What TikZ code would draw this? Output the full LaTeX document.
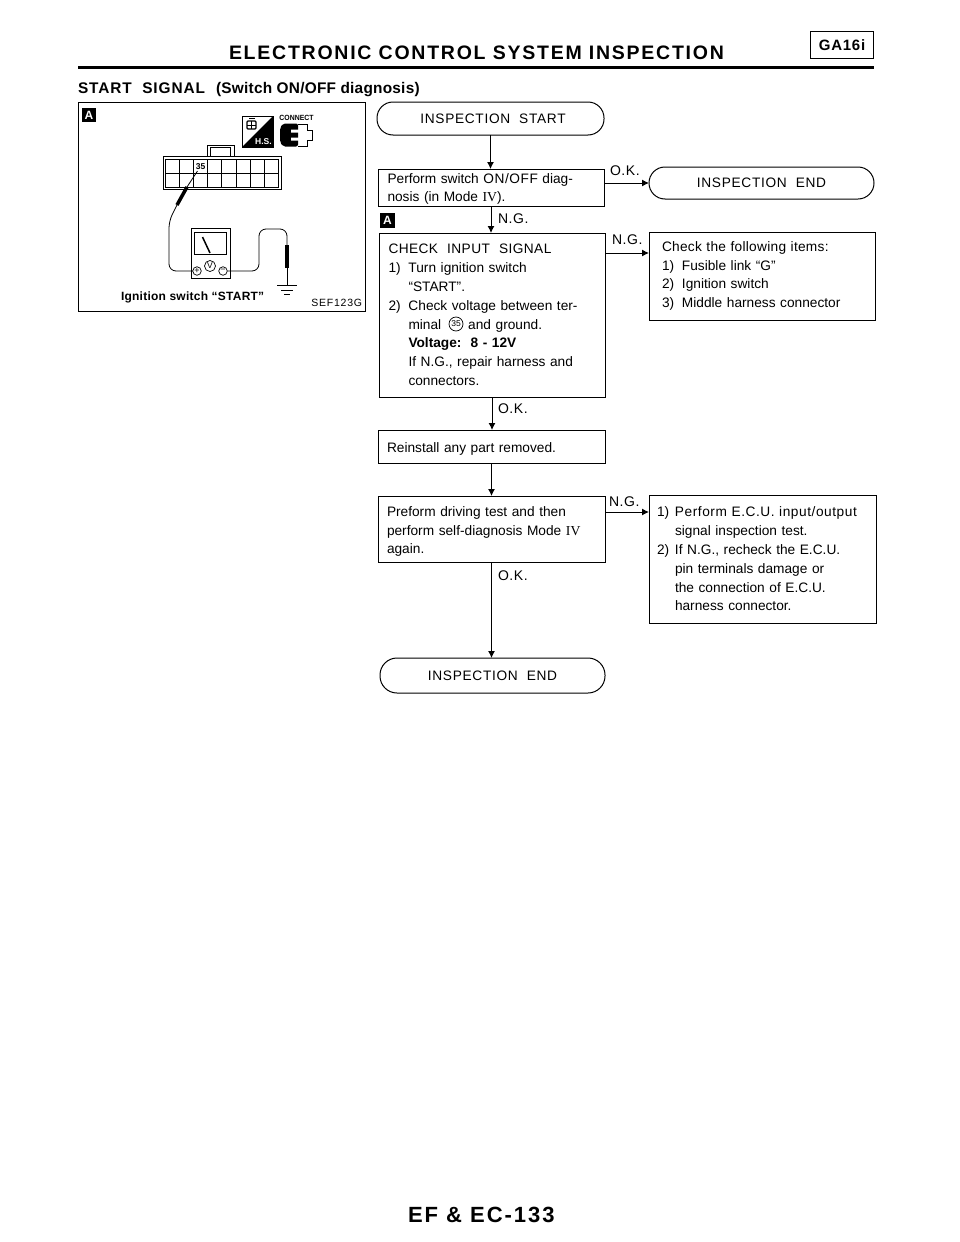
\documentclass[tikz,border=0pt]{standalone}
\usepackage{fontspec}
\setmainfont{Liberation Sans}
\newfontfamily\romanfont{Liberation Serif}
\usetikzlibrary{arrows.meta,calc}
\newcommand{\lst}[2]{\makebox[20pt][l]{#1}#2}
\newcommand{\lsb}[2]{\makebox[18pt][l]{#1}#2}
\newcommand{\cnt}{\hspace*{20pt}}
\newcommand{\cnb}{\hspace*{18pt}}
\newcommand{\spaced}[2]{{\addfontfeature{LetterSpace=#1}#2}}
\tikzset{
  x=1pt,y=-1pt,
  every node/.style={inner sep=0pt,outer sep=0pt},
  body/.style={font=\fontsize{13.7}{18.8}\selectfont},
  stepbox/.style={draw,line width=1pt,anchor=north west,align=left,body},
  endbox/.style={draw,line width=1pt,rounded corners=16pt,anchor=north west,body},
  arr/.style={line width=1pt,-{Latex[length=7pt,width=7pt]}},
  lab/.style={font=\fontsize{14}{16}\selectfont,anchor=base west},
  tag/.style={fill=black,text=white,minimum size=14pt,font=\bfseries\fontsize{12}{12}\selectfont},
  thin line/.style={line width=.8pt},
  probe/.style={line width=3.5pt},
}
\begin{document}
\begin{tikzpicture}
\useasboundingbox (0,0) rectangle (960,1242);
\fill[white] (0,0) rectangle (960,1242);
% header
\node[anchor=base west,font=\bfseries\fontsize{19.5}{20}\selectfont] (title) at (229,59) {\spaced{9}{ELECTRONIC CONTROL SYSTEM INSPECTION}};
\coordinate (ruleL) at (78,67.5);
\coordinate (ruleR) at (874,67.5);
\draw[line width=2.6pt] (ruleL) -- (ruleR);
\node[draw,line width=1.5pt,minimum width=63pt,minimum height=27pt,font=\bfseries\fontsize{15}{15}\selectfont] (model) at (842,45) {\spaced{5}{GA16i}};
\node[anchor=base west,font=\bfseries\fontsize{15.4}{16}\selectfont] (sect) at (78,93) {\spaced{6}{START~~SIGNAL}\hspace{11pt}\spaced{1.5}{(Switch ON/OFF diagnosis)}};
\node[anchor=base west,font=\bfseries\fontsize{22}{24}\selectfont] (foot) at (408,1222) {\spaced{9}{EF \& EC-133}};
% left panel
\node[draw,line width=1pt,anchor=north west,minimum width=287pt,minimum height=209pt] (panel) at (78,102) {};
\node[tag] (tagA) at (89,115) {A};
% connector
\draw[thin line] (163,156) rectangle (281,189);
\draw[thin line] (207,156) -- (207,145) -- (234,145) -- (234,156);
\draw[thin line] (210,156) -- (210,147) -- (230,147) -- (230,156);
\draw[thin line] (165.7,159) rectangle (278,187);
\draw[thin line] (165.7,173) -- (278,173);
\foreach \i in {1,...,7} \draw[thin line] ({165.7+14.04*\i},159) -- ({165.7+14.04*\i},187);
\node[font=\bfseries\fontsize{8.5}{9}\selectfont] (n35) at (200.5,167) {35};
% meter
\node[draw,line width=.8pt,anchor=north west,minimum width=39pt,minimum height=50pt] (meter) at (191,228) {};
\node[draw,line width=.8pt,anchor=north west,minimum width=32pt,minimum height=22pt] (dial) at (194,232) {};
\draw[line width=1.5pt] (202.5,237) -- (210,253);
\node[draw,circle,line width=.7pt,minimum size=11pt,font=\fontsize{8.5}{8}\selectfont] (vv) at (210,266) {V};
\node[draw,circle,line width=.7pt,minimum size=8.5pt,font=\fontsize{9}{8}\selectfont] (vp) at (197,271) {+};
\node[draw,circle,line width=.7pt,minimum size=8.5pt,font=\fontsize{9}{8}\selectfont] (vm) at (223,271) {−};
% left lead
\coordinate (tipL) at (197.5,171);
\coordinate (bodyLa) at (187,187);
\coordinate (bodyLb) at (177,205);
\coordinate (wireL) at (169,221);
\draw[thin line] (tipL) -- (bodyLa);
\draw[probe] (bodyLa) -- (bodyLb);
\draw[thin line,rounded corners=7pt] (bodyLb) -- (wireL) -- (169,271) -- (vp.west);
% right lead
\coordinate (bodyRa) at (287,245);
\coordinate (bodyRb) at (287,268);
\coordinate (gnd) at (287,285);
\draw[thin line,rounded corners=7pt] (vm.east) -- (259,271) -- (259,229) -- (287,229) -- (bodyRa);
\draw[probe] (bodyRa) -- (bodyRb);
\draw[thin line] (bodyRb) -- (gnd);
\draw[line width=1pt] (277,285.5) -- (297,285.5);
\draw[line width=1pt] (281,290) -- (293,290);
\draw[line width=1pt] (284,294.5) -- (290,294.5);
\node[anchor=base west,font=\bfseries\fontsize{12}{12}\selectfont] (ign) at (121,300) {\spaced{2}{Ignition switch “START”}};
\node[anchor=base east,font=\fontsize{10.5}{12}\selectfont] (sef) at (362,306) {\spaced{7}{SEF123G}};
% icon
\node[draw,line width=.8pt,anchor=north west,minimum size=31pt] (icon) at (242,116) {};
\fill (242,147) -- (273,116) -- (273,147) -- cycle;
\draw[line width=1.4pt,rounded corners=1pt] (247,121) rectangle (256,129);
\draw[line width=1pt] (249,118.5) -- (255,118.5) (251.5,121) -- (251.5,129) (247,125) -- (256,125);
\node[font=\bfseries\fontsize{8.5}{8}\selectfont,text=white] (hs) at (263.5,142) {H.S.};
\node[font=\bfseries\fontsize{7.5}{8}\selectfont,xscale=.92] (conn) at (296.5,117.5) {CONNECT};
\draw[line width=.9pt] (298,124) -- (307,124) -- (307,130) -- (312,130) -- (312,140) -- (307,140) -- (307,146) -- (298,146);
\fill[rounded corners=2pt] (283,123.5) -- (298,123.5) -- (298,146.5) -- (283,146.5) -- (280,142) -- (280,128) -- cycle;
\fill[white] (291,129.5) rectangle (299,132.5) (291,137.5) rectangle (299,140.5);
% flow
\node[endbox,minimum width=227pt,minimum height=33pt] (start) at (377,102) {\hspace{5pt}\spaced{5}{INSPECTION~~START}};
\node[stepbox,minimum width=226pt,minimum height=37pt,text width=207pt,inner xsep=9.5pt] (perform) at (378,169) {\rule{0pt}{13pt}Perform switch \spaced{4}{ON/OFF} diag-\\nosis (in Mode {\romanfont IV}).};
\node[endbox,minimum width=225pt,minimum height=32pt] (end1) at (649,167) {\spaced{5}{INSPECTION~~END}};
\node[tag,minimum size=15pt] (tagB) at (387.5,220) {A};
\node[stepbox,minimum width=226pt,minimum height=164pt,text width=207pt,inner xsep=9.5pt] (check) at (379,233) {\spaced{3}{CHECK~~INPUT~~SIGNAL}\\
\lst{1)}{Turn ignition switch}\\
\cnt“START”.\\
\lst{2)}{Check voltage between ter-}\\
\cnt minal\hspace{27pt}and ground.\\
\cnt\textbf{Voltage:~~8 - 12V}\\
\cnt If N.G., repair harness and\\
\cnt connectors.};
\node[draw,circle,line width=.7pt,minimum size=14pt,font=\fontsize{8.5}{9}\selectfont] (c35) at (456,324) {35};
\node[stepbox,minimum width=226pt,minimum height=88pt,text width=200pt,inner xsep=13pt] (items) at (649,232) {\spaced{2}{Check the following items:}\\
\lst{1)}{Fusible link “G”}\\
\lst{2)}{Ignition switch}\\
\lst{3)}{Middle harness connector}};
\node[stepbox,minimum width=227pt,minimum height=33pt,text width=209pt,inner xsep=9pt] (reinstall) at (378,430) {\rule{0pt}{14pt}Reinstall any part removed.};
\node[stepbox,minimum width=227pt,minimum height=66pt,text width=209pt,inner xsep=9pt] (preform) at (378,496) {\rule{0pt}{15pt}Preform driving test and then\\perform self-diagnosis Mode {\romanfont IV}\\again.};
\node[stepbox,minimum width=227pt,minimum height=128pt,text width=211pt,inner xsep=8pt] (ecu) at (649,495) {\lsb{1)}{\spaced{4}{Perform E.C.U. input/output}}\\
\cnb signal inspection test.\\
\lsb{2)}{If N.G., recheck the E.C.U.}\\
\cnb pin terminals damage or\\
\cnb the connection of E.C.U.\\
\cnb harness connector.};
\node[endbox,minimum width=225pt,minimum height=35pt,rounded corners=17pt] (end2) at (380,658) {\spaced{5}{INSPECTION~~END}};
% connectors
\draw[arr] (start.south) -- (start.south |- perform.north);
\draw[arr] (perform.east |- end1.west) -- (end1.west);
\draw[arr] (perform.south) -- (perform.south |- check.north);
\draw[arr] ([yshift=-20pt]check.north east) -- ([yshift=-21pt]items.north west);
\draw[arr] (check.south) -- (check.south |- reinstall.north);
\draw[arr] (reinstall.south) -- (reinstall.south |- preform.north);
\draw[arr] ([yshift=-16pt]preform.north east) -- ([yshift=-17pt]ecu.north west);
\draw[arr] (preform.south) -- (preform.south |- end2.north);
% labels
\node[lab] (l1) at (610,175) {\spaced{4}{O.K.}};
\node[lab] (l2) at (498,223) {\spaced{4}{N.G.}};
\node[lab] (l3) at (612,244) {\spaced{4}{N.G.}};
\node[lab] (l4) at (498,413) {\spaced{4}{O.K.}};
\node[lab] (l5) at (609,506) {\spaced{4}{N.G.}};
\node[lab] (l6) at (498,580) {\spaced{4}{O.K.}};
\end{tikzpicture}
\end{document}
